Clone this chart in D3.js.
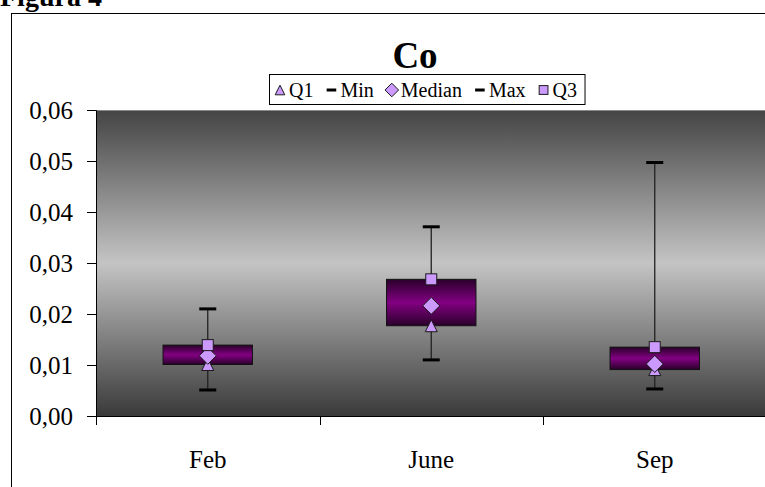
<!DOCTYPE html>
<html>
<head>
<meta charset="utf-8">
<script src="https://cdn.jsdelivr.net/npm/d3@7"></script>
<style>
  body { margin: 0; background: #fff; }
  svg { display: block; font-family: "Liberation Serif", "Times New Roman", serif; }
</style>
</head>
<body>
<svg id="chart" width="765" height="487"></svg>
<script>
// Cobalt concentrations per sampling month (box = Q1..Q3, whiskers = Min..Max)
const months = ["Feb", "June", "Sep"];
const q1     = [0.0101, 0.0177, 0.0091];
const minV   = [0.0051, 0.0110, 0.0053];
const median = [0.0118, 0.0216, 0.0102];
const maxV   = [0.0210, 0.0371, 0.0497];
const q3     = [0.0139, 0.0268, 0.0135];
const yTicks = [0, 0.01, 0.02, 0.03, 0.04, 0.05, 0.06];
const legendNames = ["Q1", "Min", "Median", "Max", "Q3"];
const legendSymbols = ["triangle", "dash", "diamond", "dash", "square"];

const svg = d3.select("#chart");
const plot = { left: 96, right: 766.5, top: 110, bottom: 416 };

const x = d3.scaleBand().domain(months).range([plot.left, plot.right]).paddingInner(0).paddingOuter(0);
const y = d3.scaleLinear().domain([0, 0.06]).range([plot.bottom, plot.top]);
const fmt = v => d3.format(".2f")(v).replace(".", ",");

const defs = svg.append("defs");
const bg = defs.append("linearGradient").attr("id", "bg").attr("x1", 0).attr("y1", 0).attr("x2", 0).attr("y2", 1);
bg.append("stop").attr("offset", "0%").attr("stop-color", "#444444");
bg.append("stop").attr("offset", "50%").attr("stop-color", "#c4c4c4");
bg.append("stop").attr("offset", "100%").attr("stop-color", "#3a3a3a");
const boxGrad = defs.append("linearGradient").attr("id", "boxfill").attr("x1", 0).attr("y1", 0).attr("x2", 0).attr("y2", 1);
boxGrad.append("stop").attr("offset", "0%").attr("stop-color", "#2a002a");
boxGrad.append("stop").attr("offset", "50%").attr("stop-color", "#820082");
boxGrad.append("stop").attr("offset", "100%").attr("stop-color", "#2a002a");

// chart frame (runs past the page edge)
svg.append("rect").attr("x", 11.5).attr("y", 13.5).attr("width", 820).attr("height", 520)
  .attr("fill", "#fff").attr("stroke", "#000").attr("stroke-width", 1);

svg.append("text").attr("x", 0).attr("y", 6).attr("font-weight", "bold").attr("font-size", 28)
  .text("Figura 4");

// title
svg.append("text").attr("x", 415).attr("y", 68).attr("text-anchor", "middle")
  .attr("font-weight", "bold").attr("font-size", 37).text("Co");

// marker shapes (s = scale factor)
const markerFill = "#cc99ff", markerStroke = "#1a1a1a";
function drawMarker(g, type, cx, cy, s = 1) {
  if (type === "triangle") {
    const h = 6 * s;
    g.append("path").attr("d", `M${cx},${cy - h}L${cx + h},${cy + h}L${cx - h},${cy + h}Z`)
      .attr("fill", markerFill).attr("stroke", markerStroke).attr("stroke-width", 1);
  } else if (type === "diamond") {
    const h = 8.5 * s;
    g.append("path").attr("d", `M${cx},${cy - h}L${cx + h},${cy}L${cx},${cy + h}L${cx - h},${cy}Z`)
      .attr("fill", markerFill).attr("stroke", markerStroke).attr("stroke-width", 1);
  } else if (type === "square") {
    const h = 5.5 * s;
    g.append("rect").attr("x", cx - h).attr("y", cy - h).attr("width", 2 * h).attr("height", 2 * h)
      .attr("fill", markerFill).attr("stroke", markerStroke).attr("stroke-width", 1);
  } else if (type === "dash") {
    const h = 6 * s;
    g.append("line").attr("x1", cx - h).attr("x2", cx + h).attr("y1", cy).attr("y2", cy)
      .attr("stroke", "#000").attr("stroke-width", 3);
  }
}

// plot area
svg.append("rect").attr("x", plot.left).attr("y", plot.top)
  .attr("width", plot.right - plot.left).attr("height", plot.bottom - plot.top)
  .attr("fill", "url(#bg)");
svg.append("line").attr("x1", plot.left).attr("x2", plot.right).attr("y1", plot.top + 0.5).attr("y2", plot.top + 0.5)
  .attr("stroke", "#8a8a8a").attr("stroke-width", 1);

// y axis
const yAxis = svg.append("g").attr("transform", `translate(${plot.left},0)`)
  .call(d3.axisLeft(y).tickValues(yTicks).tickFormat(fmt).tickSize(9).tickPadding(14));
yAxis.select(".domain").attr("stroke", "#000");
yAxis.selectAll(".tick line").attr("stroke", "#000");
yAxis.selectAll("text").attr("font-size", 25).attr("font-family", "Liberation Serif").attr("fill", "#000");

// x axis: line with ticks between categories, labels centred
const xg = svg.append("g");
xg.append("line").attr("x1", plot.left).attr("x2", plot.right).attr("y1", plot.bottom + 0.5).attr("y2", plot.bottom + 0.5)
  .attr("stroke", "#000");
const bounds = months.map(m => x(m)).concat([x(months[months.length - 1]) + x.bandwidth()]);
xg.selectAll(".xt").data(bounds).join("line")
  .attr("x1", d => Math.round(d) + 0.5).attr("x2", d => Math.round(d) + 0.5)
  .attr("y1", plot.bottom).attr("y2", plot.bottom + 9).attr("stroke", "#000");
xg.selectAll(".xl").data(months).join("text")
  .attr("x", d => x(d) + x.bandwidth() / 2).attr("y", 468).attr("text-anchor", "middle")
  .attr("font-size", 25).text(d => d);

// boxes, whiskers, markers
const boxW = x.bandwidth() * 0.4;
const capW = 17;
const marks = svg.append("g");
months.forEach((m, i) => {
  const cx = x(m) + x.bandwidth() / 2;
  marks.append("line").attr("x1", cx).attr("x2", cx).attr("y1", y(maxV[i])).attr("y2", y(minV[i]))
    .attr("stroke", "#222").attr("stroke-width", 1.3);
  [minV[i], maxV[i]].forEach(v => {
    marks.append("line").attr("x1", cx - capW / 2).attr("x2", cx + capW / 2).attr("y1", y(v)).attr("y2", y(v))
      .attr("stroke", "#000").attr("stroke-width", 3);
  });
  marks.append("rect").attr("x", cx - boxW / 2).attr("y", y(q3[i]))
    .attr("width", boxW).attr("height", y(q1[i]) - y(q3[i]))
    .attr("fill", "url(#boxfill)").attr("stroke", "#111").attr("stroke-width", 1);
  drawMarker(marks, "triangle", cx, y(q1[i]));
  drawMarker(marks, "diamond", cx, y(median[i]));
  drawMarker(marks, "square", cx, y(q3[i]));
});

// legend
const lg = svg.append("g");
const legFont = 20;
const legY = 90;
let cursor = 274;
legendNames.forEach((name, i) => {
  drawMarker(lg, legendSymbols[i], cursor + 6, legY, 0.8);
  const t = lg.append("text").attr("x", cursor + 15).attr("y", legY + 7).attr("font-size", legFont).text(name);
  cursor += 15 + t.node().getComputedTextLength() + 12;
});
lg.insert("rect", ":first-child").attr("x", 269.5).attr("y", 74.5)
  .attr("width", cursor - 269.5 - 4).attr("height", 30).attr("fill", "#fff").attr("stroke", "#000");
</script>
</body>
</html>
